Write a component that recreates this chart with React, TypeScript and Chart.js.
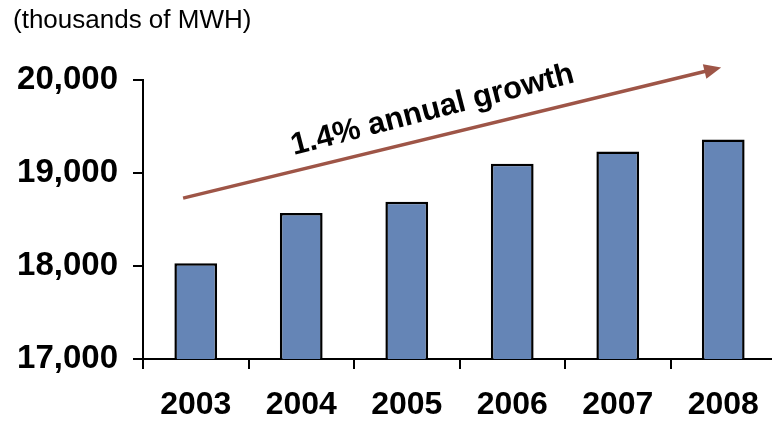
import { useEffect, useRef } from "react";
import { Chart, registerables } from "chart.js";

Chart.register(...registerables);

// Annual generation, thousands of MWH
const years = ["2003", "2004", "2005", "2006", "2007", "2008"];
const generation = [18030, 18570, 18690, 19100, 19230, 19360];
const yTicks = [17000, 18000, 19000, 20000];

const unitLabel = "(thousands of MWH)";
const growthLabel = "1.4% annual growth";

// Trend arrow ends as [category index, value]
const arrowStart = [-0.12, 18730];
const arrowEnd = [4.98, 20135];

const FONT = '"Liberation Sans", Arial, Helvetica, sans-serif';
const BAR_FILL = "#6585B6";
const ARROW = "#9E5547";

const trendArrow = {
  id: "trendArrow",
  afterDatasetsDraw(chart: any) {
    const { ctx, scales } = chart;
    const xs = scales.x;
    const ys = scales.y;
    const x0 = xs.getPixelForValue(arrowStart[0]);
    const y0 = ys.getPixelForValue(arrowStart[1]);
    const x1 = xs.getPixelForValue(arrowEnd[0]);
    const y1 = ys.getPixelForValue(arrowEnd[1]);
    const ang = Math.atan2(y1 - y0, x1 - x0);
    const c = Math.cos(ang);
    const s = Math.sin(ang);
    const headLen = 17;
    const headHalf = 7.5;
    const bx = x1 - headLen * c;
    const by = y1 - headLen * s;

    ctx.save();
    ctx.strokeStyle = ARROW;
    ctx.fillStyle = ARROW;
    ctx.lineWidth = 3.5;
    ctx.lineCap = "butt";
    ctx.beginPath();
    ctx.moveTo(x0, y0);
    ctx.lineTo(bx + 2 * c, by + 2 * s);
    ctx.stroke();

    ctx.beginPath();
    ctx.moveTo(x1, y1);
    ctx.lineTo(bx - headHalf * s, by + headHalf * c);
    ctx.lineTo(bx + headHalf * s, by - headHalf * c);
    ctx.closePath();
    ctx.fill();

    // growth label riding above the arrow
    const t = 0.476;
    const tx = x0 + t * (x1 - x0);
    const ty = y0 + t * (y1 - y0);
    ctx.translate(tx, ty);
    ctx.rotate(ang - 0.015);
    ctx.fillStyle = "#000";
    ctx.font = `bold 31px ${FONT}`;
    ctx.textAlign = "center";
    ctx.textBaseline = "alphabetic";
    ctx.fillText(growthLabel, 0, -18);
    ctx.restore();

    // unit caption
    ctx.save();
    ctx.fillStyle = "#000";
    ctx.font = `26px ${FONT}`;
    ctx.textAlign = "left";
    ctx.textBaseline = "alphabetic";
    ctx.fillText(unitLabel, 13, 28);
    ctx.restore();
  },
};

export default function App() {
  const canvasRef = useRef<HTMLCanvasElement | null>(null);

  useEffect(() => {
    const canvas = canvasRef.current;
    if (!canvas) return;
    const chart = new Chart(canvas, {
      type: "bar",
      data: {
        labels: years,
        datasets: [
          {
            data: generation,
            backgroundColor: BAR_FILL,
            borderColor: "#000",
            borderWidth: 2.5,
            borderSkipped: "start",
            barPercentage: 0.405,
            categoryPercentage: 1,
          },
        ],
      },
      options: {
        responsive: false,
        animation: false,
        devicePixelRatio: 1,
        layout: { padding: { top: 80, right: 4, left: 0, bottom: 0 } },
        plugins: {
          legend: { display: false },
          tooltip: { enabled: false },
          title: { display: false },
        },
        scales: {
          x: {
            grid: {
              offset: true,
              drawOnChartArea: false,
              drawTicks: true,
              tickLength: 10,
              color: "#000",
              lineWidth: 2,
            },
            border: { display: true, color: "#000", width: 2 },
            ticks: {
              color: "#000",
              padding: 17,
              font: { family: FONT, size: 32, weight: "bold" },
              maxRotation: 0,
            },
            afterFit: (s: any) => {
              s.height = 63;
            },
          },
          y: {
            min: 17000,
            max: 20000,
            afterBuildTicks: (s: any) => {
              s.ticks = yTicks.map((v) => ({ value: v }));
            },
            grid: {
              drawOnChartArea: false,
              drawTicks: true,
              tickLength: 10,
              color: "#000",
              lineWidth: 2,
            },
            border: { display: true, color: "#000", width: 2 },
            ticks: {
              color: "#000",
              padding: 15,
              font: { family: FONT, size: 33, weight: "bold" },
              callback: (v: any) => Number(v).toLocaleString("en-US"),
            },
            afterFit: (s: any) => {
              s.width = 143;
            },
          },
        },
      },
      plugins: [trendArrow],
    });
    return () => chart.destroy();
  }, []);

  return (
    <div
      style={{
        position: "fixed",
        left: 0,
        top: 0,
        width: 772,
        height: 422,
        overflow: "hidden",
        background: "#fff",
      }}
    >
      <canvas ref={canvasRef} width={780} height={422} style={{ display: "block" }} />
    </div>
  );
}
